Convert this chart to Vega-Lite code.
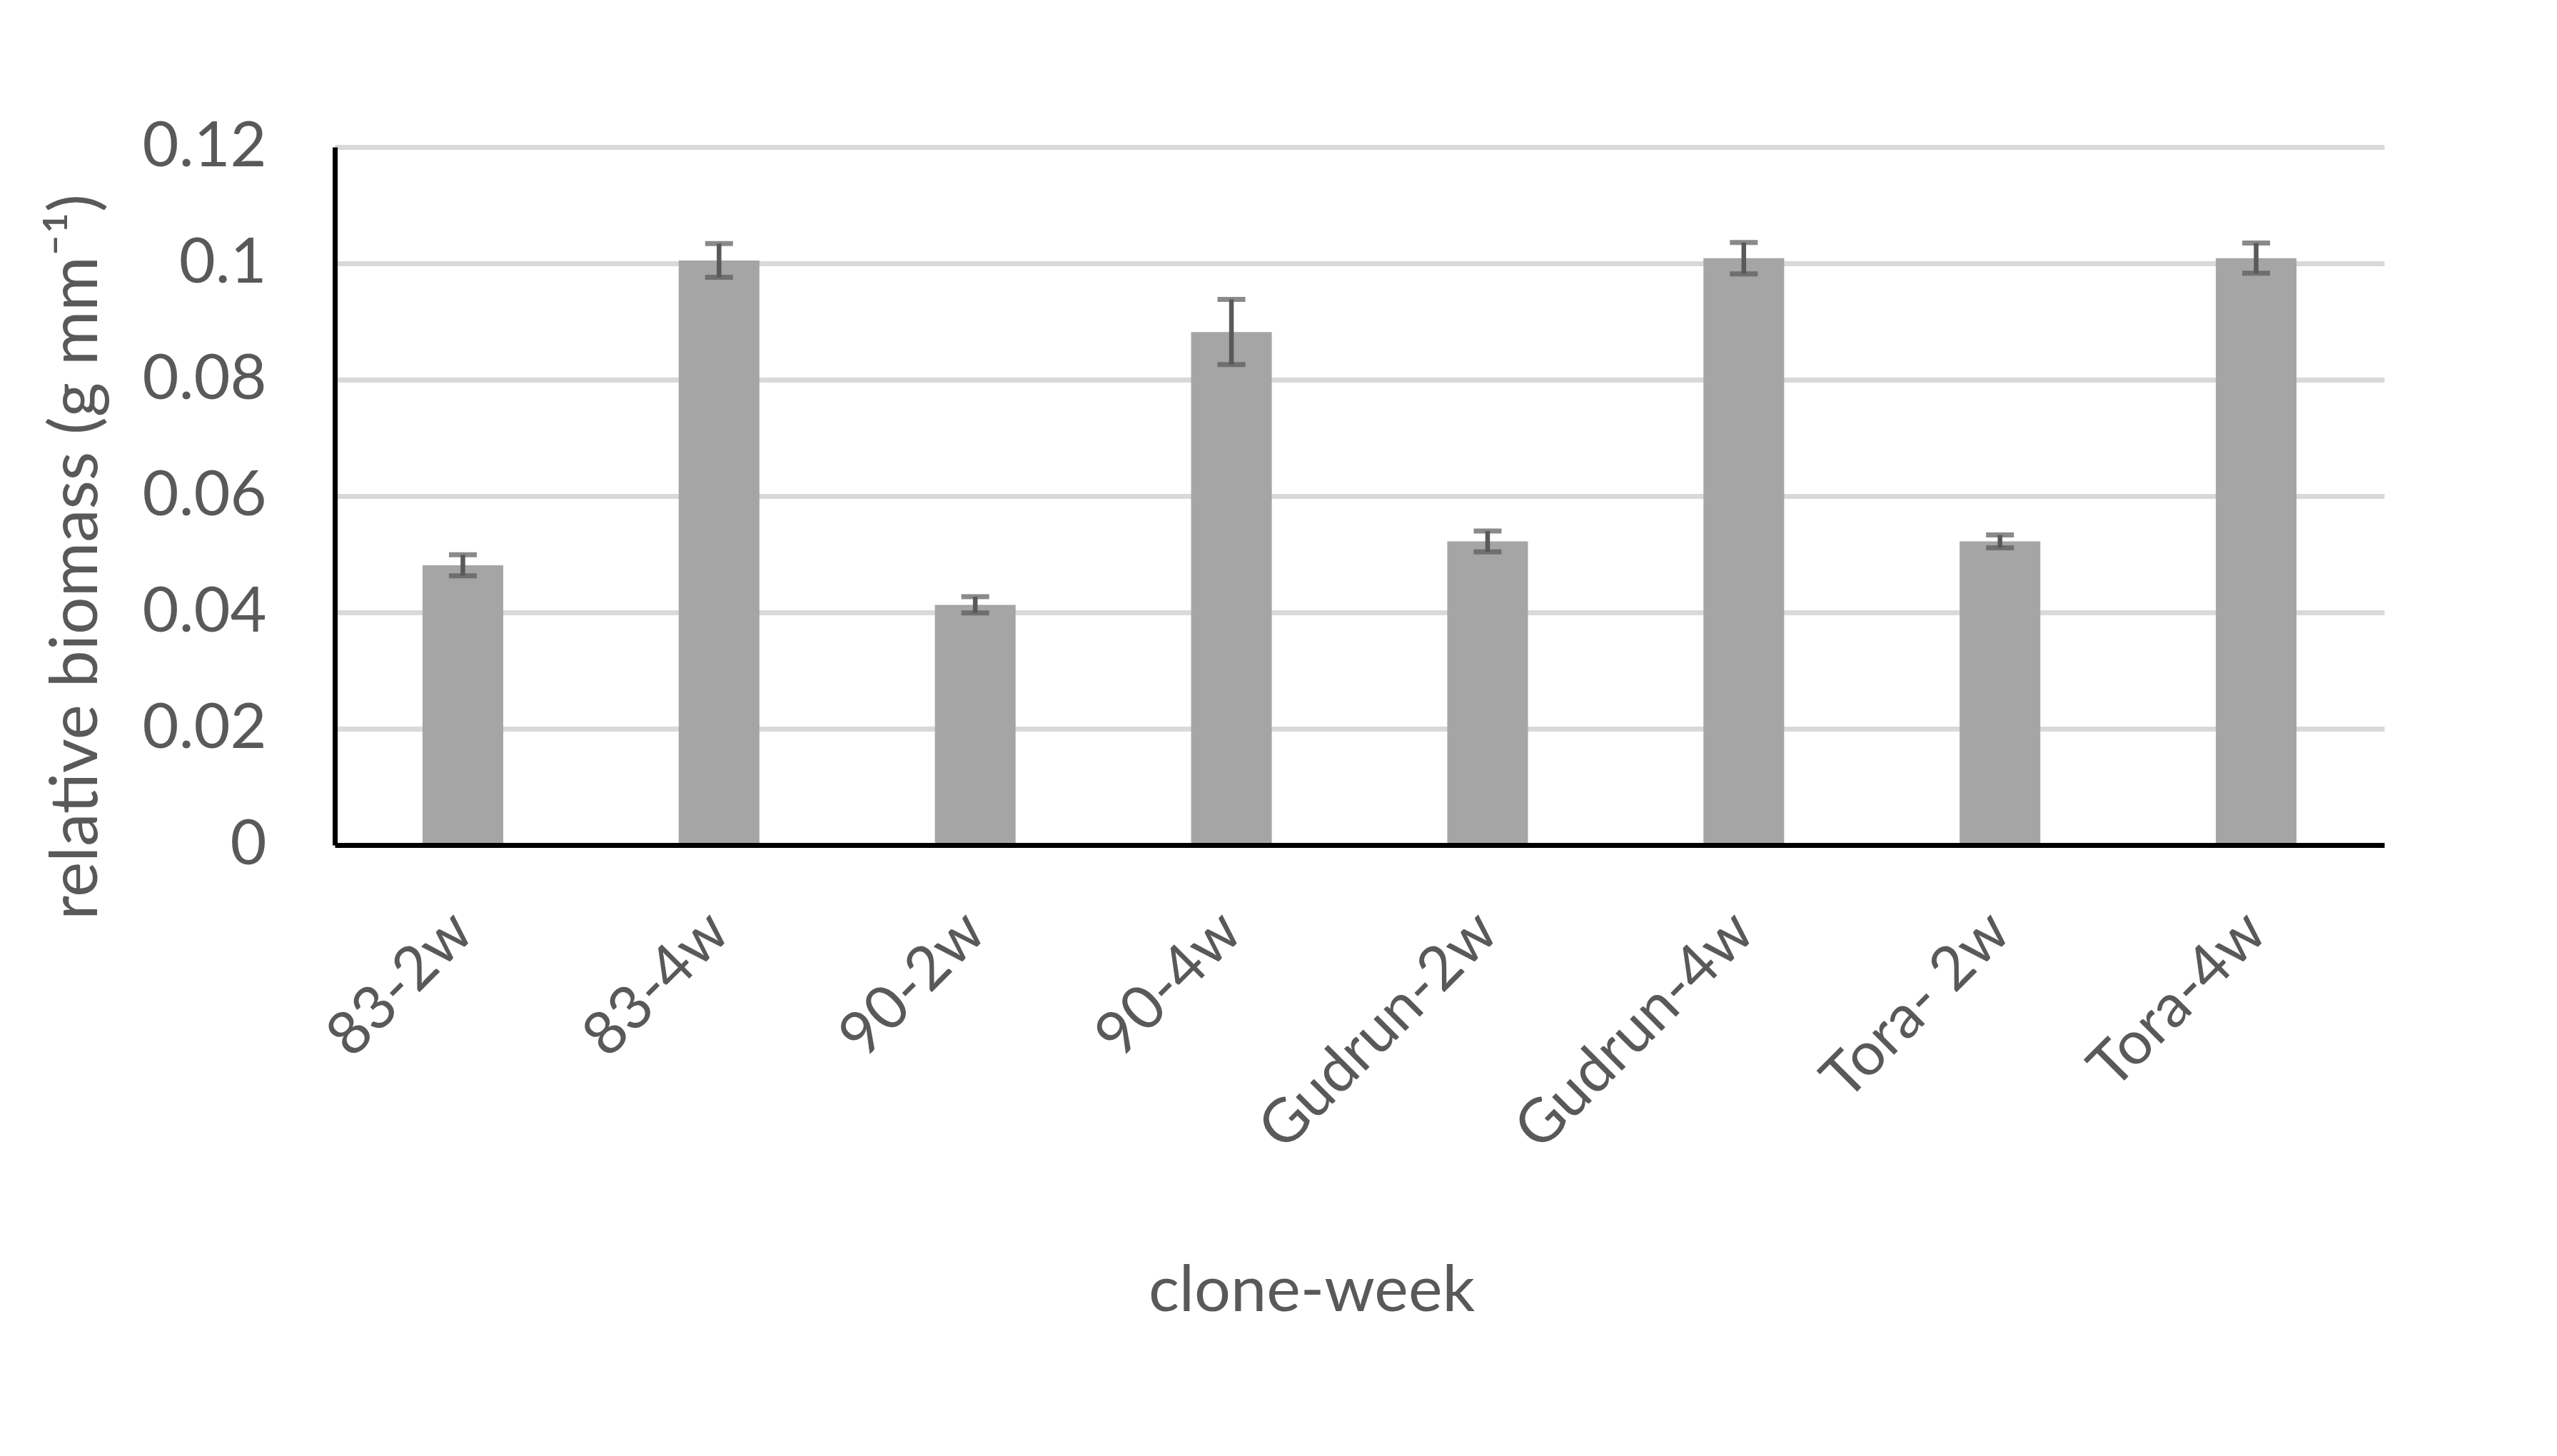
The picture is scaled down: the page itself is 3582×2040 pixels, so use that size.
{
  "$schema": "https://vega.github.io/schema/vega-lite/v6.json",
  "autosize": "none",
  "padding": {"left": 469, "top": 206, "right": 242, "bottom": 856},
  "width": 2871,
  "height": 978,
  "background": "white",
  "config": {
    "view": {"stroke": null},
    "font": "Lato",
    "axis": {"labelFont": "Lato", "titleFont": "Lato", "labelColor": "#595959", "titleColor": "#595959", "titleFontWeight": "normal"}
  },
  "data": {
    "values": [
      {"label": "83-2w", "value": 0.0481, "err": 0.0018},
      {"label": "83-4w", "value": 0.1005, "err": 0.0029},
      {"label": "90-2w", "value": 0.0413, "err": 0.0014},
      {"label": "90-4w", "value": 0.0882, "err": 0.0056},
      {"label": "Gudrun-2w", "value": 0.0522, "err": 0.0018},
      {"label": "Gudrun-4w", "value": 0.1009, "err": 0.0027},
      {"label": "Tora- 2w", "value": 0.0522, "err": 0.0011},
      {"label": "Tora-4w", "value": 0.1009, "err": 0.0026}
    ]
  },
  "encoding": {
    "x": {
      "field": "label",
      "type": "nominal",
      "sort": null,
      "scale": {"paddingInner": 0.685, "paddingOuter": 0.3425},
      "axis": {
        "title": "clone-week",
        "titleFontSize": 90,
        "titleX": 1368,
        "titleY": 625,
        "titleBaseline": "middle",
        "titleAlign": "center",
        "labelAngle": -45,
        "labelAlign": "right",
        "labelBaseline": "middle",
        "labelFontSize": 85,
        "labelPadding": 108,
        "labelLimit": 0,
        "labelOverlap": false,
        "labelFlush": false,
        "labelBound": false,
        "ticks": false,
        "tickSize": 0,
        "domainColor": "#000000",
        "domainWidth": 7,
        "zindex": 1
      }
    }
  },
  "layer": [
    {
      "mark": {"type": "bar", "color": "#a5a5a5"},
      "encoding": {
        "y": {
          "field": "value",
          "type": "quantitative",
          "title": "relative biomass (g mm⁻¹)",
          "scale": {"domain": [0, 0.12], "nice": false},
          "axis": {
            "title": "relative biomass (g mm⁻¹)",
            "titleFontSize": 93,
            "titleAngle": -90,
            "titleX": -362,
            "titleY": 574,
            "titleAlign": "center",
            "titleBaseline": "middle",
            "values": [0, 0.02, 0.04, 0.06, 0.08, 0.1, 0.12],
            "format": "~g",
            "labelFontSize": 88,
            "labelPadding": 96,
            "ticks": false,
            "tickSize": 0,
            "grid": true,
            "gridColor": "#d9d9d9",
            "gridWidth": 7,
            "domainColor": "#000000",
            "domainWidth": 7,
            "zindex": 0
          }
        }
      }
    },
    {
      "mark": {
        "type": "errorbar",
        "ticks": {"size": 39, "thickness": 7, "color": "#595959"},
        "rule": {"strokeWidth": 6.5, "color": "#595959"}
      },
      "encoding": {
        "y": {"field": "value", "type": "quantitative", "title": "relative biomass (g mm⁻¹)"},
        "yError": {"field": "err"}
      }
    }
  ]
}
